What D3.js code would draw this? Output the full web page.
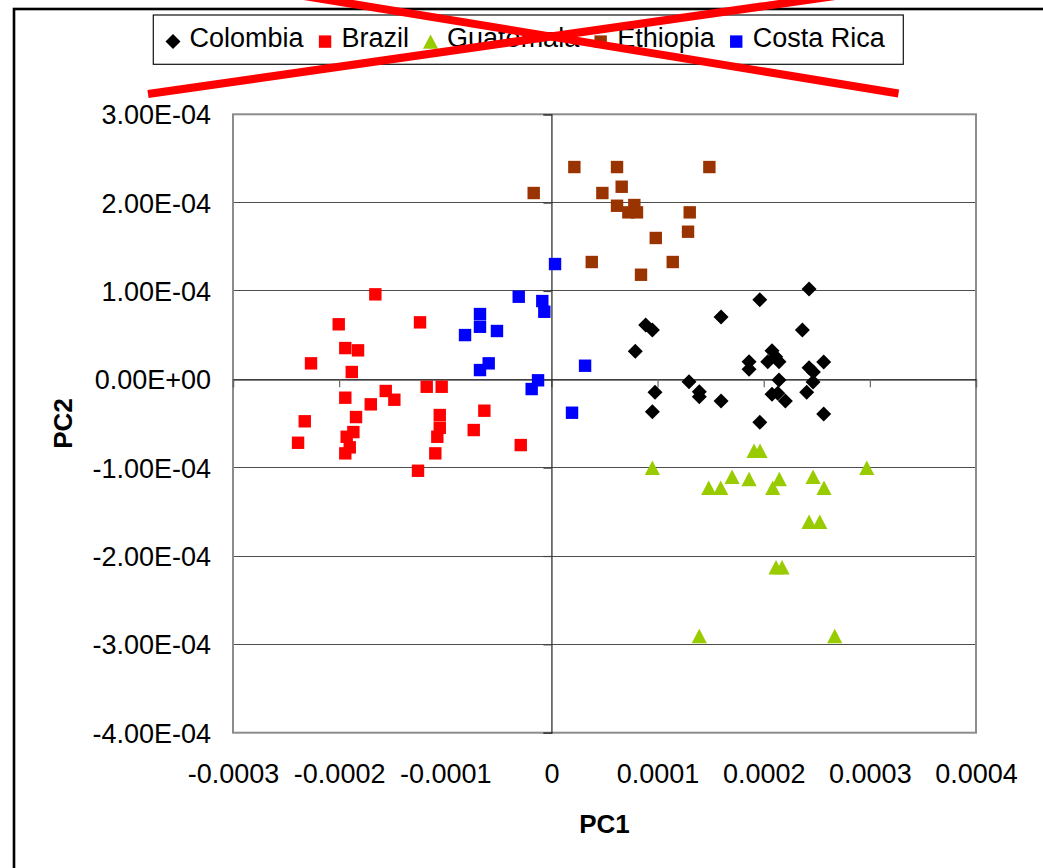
<!DOCTYPE html>
<html>
<head>
<meta charset="utf-8">
<script src="https://cdn.jsdelivr.net/npm/d3@7/dist/d3.min.js"></script>
<style>
  html, body { margin: 0; padding: 0; background: #fff; }
  svg { display: block; font-family: "Liberation Sans", Arial, sans-serif; }
</style>
</head>
<body>
<svg id="chart" width="1043" height="868"></svg>
<script>
// ---- data: principal component scores per origin ----
const seriesNames = ["Colombia", "Brazil", "Guatemala", "Ethiopia", "Costa Rica"];
const seriesColors = ["#000000", "#ff0000", "#99cc00", "#993300", "#0000ff"];
const seriesShapes = ["diamond", "square", "triangle", "square", "square"];

const colombiaPC1 = [2.427e-4, 1.963e-4, 1.598e-4, 0.888e-4, 0.951e-4, 2.364e-4, 0.790e-4, 2.078e-4, 2.038e-4, 2.144e-4,
                     2.113e-4, 1.862e-4, 1.862e-4, 2.565e-4, 2.427e-4, 2.468e-4, 1.296e-4, 2.144e-4, 2.465e-4, 0.976e-4,
                     1.393e-4, 1.393e-4, 2.078e-4, 2.132e-4, 2.405e-4, 1.598e-4, 2.204e-4, 0.951e-4, 2.565e-4, 1.963e-4];
const colombiaPC2 = [1.022e-4, 0.901e-4, 0.705e-4, 0.615e-4, 0.558e-4, 0.558e-4, 0.317e-4, 0.324e-4, 0.199e-4, 0.199e-4,
                     0.256e-4, 0.199e-4, 0.113e-4, 0.196e-4, 0.131e-4, 0.083e-4, -0.027e-4, -0.008e-4, -0.031e-4, -0.147e-4,
                     -0.140e-4, -0.197e-4, -0.170e-4, -0.158e-4, -0.147e-4, -0.246e-4, -0.246e-4, -0.367e-4, -0.393e-4, -0.487e-4];

const brazilPC1 = [-1.659e-4, -2.004e-4, -1.238e-4, -1.942e-4, -1.822e-4, -2.265e-4, -1.881e-4, -1.175e-4, -1.034e-4, -1.561e-4,
                   -1.480e-4, -1.942e-4, -1.702e-4, -1.841e-4, -1.052e-4, -2.324e-4, -0.632e-4, -1.052e-4, -1.866e-4, -1.929e-4,
                   -1.075e-4, -0.732e-4, -1.900e-4, -2.387e-4, -1.942e-4, -1.094e-4, -0.289e-4, -1.257e-4];
const brazilPC2 = [0.962e-4, 0.623e-4, 0.645e-4, 0.354e-4, 0.328e-4, 0.181e-4, 0.083e-4, -0.084e-4, -0.084e-4, -0.132e-4,
                   -0.231e-4, -0.208e-4, -0.283e-4, -0.427e-4, -0.404e-4, -0.475e-4, -0.355e-4, -0.548e-4, -0.597e-4, -0.650e-4,
                   -0.650e-4, -0.574e-4, -0.770e-4, -0.718e-4, -0.838e-4, -0.838e-4, -0.744e-4, -1.035e-4];

const guatemalaPC1 = [0.951e-4, 1.909e-4, 1.965e-4, 2.971e-4, 1.702e-4, 1.862e-4, 2.147e-4, 2.465e-4, 1.482e-4, 1.595e-4,
                      2.085e-4, 2.568e-4, 2.427e-4, 2.528e-4, 2.116e-4, 2.173e-4, 1.393e-4, 2.669e-4];
const guatemalaPC2 = [-1.001e-4, -0.808e-4, -0.808e-4, -1.001e-4, -1.103e-4, -1.129e-4, -1.129e-4, -1.103e-4, -1.227e-4, -1.227e-4,
                      -1.227e-4, -1.227e-4, -1.612e-4, -1.612e-4, -2.128e-4, -2.128e-4, -2.906e-4, -2.906e-4];

const ethiopiaPC1 = [0.216e-4, 0.618e-4, 1.488e-4, -0.167e-4, 0.480e-4, 0.662e-4, 0.618e-4, 0.781e-4, 0.725e-4, 0.806e-4,
                     1.303e-4, 1.287e-4, 0.983e-4, 0.380e-4, 1.143e-4, 0.844e-4];
const ethiopiaPC2 = [2.403e-4, 2.403e-4, 2.403e-4, 2.109e-4, 2.109e-4, 2.180e-4, 1.965e-4, 1.973e-4, 1.890e-4, 1.890e-4,
                     1.890e-4, 1.671e-4, 1.600e-4, 1.328e-4, 1.328e-4, 1.184e-4];

const costaRicaPC1 = [-0.308e-4, -0.086e-4, -0.067e-4, -0.673e-4, -0.673e-4, -0.513e-4, -0.814e-4, -0.591e-4, -0.673e-4, 0.317e-4,
                      -0.126e-4, -0.186e-4, 0.194e-4, 0.034e-4];
const costaRicaPC2 = [0.935e-4, 0.886e-4, 0.765e-4, 0.739e-4, 0.595e-4, 0.547e-4, 0.501e-4, 0.181e-4, 0.105e-4, 0.154e-4,
                      -0.011e-4, -0.110e-4, -0.378e-4, 1.305e-4];

const xTickValues = [-0.0003, -0.0002, -0.0001, 0, 0.0001, 0.0002, 0.0003, 0.0004];
const xTickLabels = ["-0.0003", "-0.0002", "-0.0001", "0", "0.0001", "0.0002", "0.0003", "0.0004"];
const yTickValues = [3e-4, 2e-4, 1e-4, 0, -1e-4, -2e-4, -3e-4, -4e-4];
const yTickLabels = ["3.00E-04", "2.00E-04", "1.00E-04", "0.00E+00", "-1.00E-04", "-2.00E-04", "-3.00E-04", "-4.00E-04"];

const xTitle = "PC1";
const yTitle = "PC2";

// ---- assemble series ----
const pc1Lists = [colombiaPC1, brazilPC1, guatemalaPC1, ethiopiaPC1, costaRicaPC1];
const pc2Lists = [colombiaPC2, brazilPC2, guatemalaPC2, ethiopiaPC2, costaRicaPC2];
const series = seriesNames.map((name, i) => ({
  name,
  color: seriesColors[i],
  shape: seriesShapes[i],
  points: pc1Lists[i].map((v, j) => ({ pc1: v, pc2: pc2Lists[i][j] }))
}));

// ---- layout ----
const W = 1043, H = 868;
const plot = { left: 233, top: 114.3, right: 976, bottom: 732.7 };
const FONT = 27;

const svg = d3.select("#chart");

const x = d3.scaleLinear().domain([-3e-4, 4e-4]).range([plot.left, plot.right]);
const y = d3.scaleLinear().domain([-4e-4, 3e-4]).range([plot.bottom, plot.top]);

// marker outlines
const markerPath = {
  diamond: "M0,-7.5L7.5,0L0,7.5L-7.5,0Z",
  square: "M-6.2,-6.2h12.4v12.4h-12.4Z",
  triangle: "M0,-7.2L7.6,7.2L-7.6,7.2Z"
};

// outer chart frame (only top and left edges fall inside the page)
svg.append("rect")
  .attr("x", 14).attr("y", 9)
  .attr("width", W + 20).attr("height", H + 20)
  .attr("fill", "#fff")
  .attr("stroke", "#000")
  .attr("stroke-width", 2.6);

// plot area background
svg.append("rect")
  .attr("x", plot.left).attr("y", plot.top)
  .attr("width", plot.right - plot.left).attr("height", plot.bottom - plot.top)
  .attr("fill", "#fff");

// horizontal gridlines
svg.append("g")
  .selectAll("line")
  .data(yTickValues.filter(v => v !== 0))
  .join("line")
  .attr("x1", plot.left).attr("x2", plot.right)
  .attr("y1", d => y(d)).attr("y2", d => y(d))
  .attr("stroke", "#4d4d4d")
  .attr("stroke-width", 1)
  .attr("shape-rendering", "crispEdges");

// plot border
svg.append("rect")
  .attr("x", plot.left).attr("y", plot.top)
  .attr("width", plot.right - plot.left).attr("height", plot.bottom - plot.top)
  .attr("fill", "none")
  .attr("stroke", "#8c8c8c")
  .attr("stroke-width", 2);

// horizontal axis line through PC2 = 0, ticks hanging below
const xAxisLine = svg.append("g")
  .attr("transform", `translate(0,${y(0)})`)
  .call(d3.axisBottom(x).tickValues(xTickValues).tickSize(8).tickFormat(""));
xAxisLine.select(".domain").attr("stroke", "#000").attr("stroke-width", 1.2);
xAxisLine.selectAll(".tick line").attr("stroke", "#666").attr("stroke-width", 1.2);

// vertical axis line through PC1 = 0, ticks pointing left
const yAxisLine = svg.append("g")
  .attr("transform", `translate(${x(0)},0)`)
  .call(d3.axisLeft(y).tickValues(yTickValues).tickSize(8).tickFormat(""));
yAxisLine.select(".domain").attr("stroke", "#222").attr("stroke-width", 1.2);
yAxisLine.selectAll(".tick line").attr("stroke", "#444").attr("stroke-width", 1.2);

// tick labels along the bottom edge
const xLabels = svg.append("g")
  .attr("transform", `translate(0,${plot.bottom})`)
  .call(d3.axisBottom(x).tickValues(xTickValues).tickSize(0).tickPadding(31)
    .tickFormat((d, i) => xTickLabels[i]));
xLabels.select(".domain").remove();
xLabels.selectAll("text")
  .attr("font-family", "'Liberation Sans', Arial, sans-serif")
  .attr("font-size", FONT)
  .attr("fill", "#000");

// tick labels along the left edge
const yLabels = svg.append("g")
  .attr("transform", `translate(${plot.left},0)`)
  .call(d3.axisLeft(y).tickValues(yTickValues).tickSize(0).tickPadding(22)
    .tickFormat((d, i) => yTickLabels[i]));
yLabels.select(".domain").remove();
yLabels.selectAll("text")
  .attr("dy", "0.35em")
  .attr("font-family", "'Liberation Sans', Arial, sans-serif")
  .attr("font-size", FONT)
  .attr("fill", "#000");

// axis titles
svg.append("text")
  .attr("x", (plot.left + plot.right) / 2)
  .attr("y", 833)
  .attr("text-anchor", "middle")
  .attr("font-weight", "bold")
  .attr("font-size", 26)
  .text(xTitle);

svg.append("text")
  .attr("transform", `translate(72,${(plot.top + plot.bottom) / 2}) rotate(-90)`)
  .attr("text-anchor", "middle")
  .attr("font-weight", "bold")
  .attr("font-size", 26)
  .text(yTitle);

// scatter points
const marks = svg.append("g");
series.forEach(s => {
  marks.append("g")
    .selectAll("path")
    .data(s.points)
    .join("path")
    .attr("d", markerPath[s.shape])
    .attr("transform", d => `translate(${x(d.pc1)},${y(d.pc2)})`)
    .attr("fill", s.color);
});

// legend
const legendBox = { x: 153.3, y: 15, w: 750, h: 49.3 };
const legend = svg.append("g");
legend.append("rect")
  .attr("x", legendBox.x).attr("y", legendBox.y)
  .attr("width", legendBox.w).attr("height", legendBox.h)
  .attr("fill", "#fff")
  .attr("stroke", "#111")
  .attr("stroke-width", 1.2);

let cursor = legendBox.x + 19.7;
series.forEach(s => {
  const item = legend.append("g");
  item.append("path")
    .attr("d", markerPath[s.shape])
    .attr("transform", `translate(${cursor},41.6)`)
    .attr("fill", s.color);
  const t = item.append("text")
    .attr("x", cursor + 16.5)
    .attr("y", 46.7)
    .attr("font-size", FONT)
    .attr("fill", "#000")
    .text(s.name);
  cursor += 16.5 + t.node().getComputedTextLength() + 21.5;
});

// red cross drawn over the legend
const crossLines = [
  { x1: 148, y1: 94, x2: 148 + 100 / 0.1426, y2: -6 },
  { x1: 898.5 - 99.5 / 0.164, y1: -6, x2: 898.5, y2: 93.5 }
];
svg.append("g")
  .selectAll("line")
  .data(crossLines)
  .join("line")
  .attr("x1", d => d.x1).attr("y1", d => d.y1)
  .attr("x2", d => d.x2).attr("y2", d => d.y2)
  .attr("stroke", "#ff0000")
  .attr("stroke-width", 8);
</script>
</body>
</html>
